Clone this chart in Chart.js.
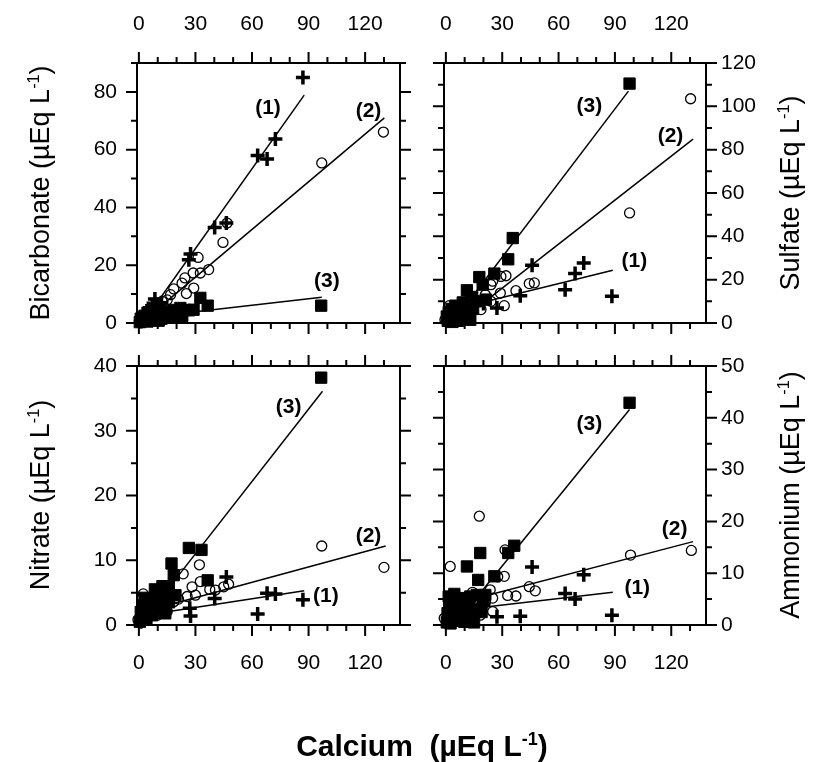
<!DOCTYPE html>
<html>
<head>
<meta charset="utf-8">
<title>Calcium vs anions and ammonium</title>
<script src="https://cdn.jsdelivr.net/npm/chart.js@4.4.0/dist/chart.umd.min.js"></script>
<style>
  body { margin: 0; background: #fff; }
  #wrap { position: relative; width: 822px; height: 762px; font-family: "Liberation Sans", Arial, sans-serif; color: #000; }
  #wrap canvas { position: absolute; left: 0; top: 0; }
  .ytitle { position: absolute; white-space: nowrap; font-size: 27px; transform: translate(-50%, -50%) rotate(-90deg); }
  .xtitle { position: absolute; left: 422px; top: 746px; white-space: nowrap; font-size: 30px; font-weight: bold; transform: translate(-50%, -50%); }
  sup { font-size: 60%; vertical-align: 0.6em; line-height: 0; }
</style>
</head>
<body>
<div id="wrap">
  <canvas id="bicarb" width="822" height="762"></canvas>
  <canvas id="sulfate" width="822" height="762"></canvas>
  <canvas id="nitrate" width="822" height="762"></canvas>
  <canvas id="ammonium" width="822" height="762"></canvas>
  <div class="ytitle" style="left:40px;top:193px">Bicarbonate (µEq L<sup>-1</sup>)</div>
  <div class="ytitle" style="left:40px;top:495px">Nitrate (µEq L<sup>-1</sup>)</div>
  <div class="ytitle" style="left:790px;top:193px">Sulfate (µEq L<sup>-1</sup>)</div>
  <div class="ytitle" style="left:790px;top:495px">Ammonium (µEq L<sup>-1</sup>)</div>
  <div class="xtitle">Calcium&nbsp; (µEq L<sup>-1</sup>)</div>
</div>
<script>
// tick labels
var calciumTicks = [0, 30, 60, 90, 120];
var calciumRange = [-1, 138.5];
var bicarbTicks = [0, 20, 40, 60, 80];
var sulfateTicks = [0, 20, 40, 60, 80, 100, 120];
var nitrateTicks = [0, 10, 20, 30, 40];
var ammoniumTicks = [0, 10, 20, 30, 40, 50];

// bicarbonate vs calcium
var bicarbCross = [[1,0.5],[2.5,1.5],[3,3.5],[4,2.5],[5,5],[6,4],[7,6],[8.5,8.3],[9,6.5],[10,5.5],[12,7],[26.5,21.9],[27.4,23.9],[40.2,33.1],[46.4,34.6],[63,58],[68,56.8],[72.4,63.7],[87,85]];
var bicarbCircle = [[1.5,1],[3,2],[5,3],[7,4.5],[9.5,5.5],[12.4,7.5],[15,8],[16.8,9.8],[18.5,11.8],[22.9,13.8],[24.4,15.6],[25.2,10.2],[29.1,12.1],[28.8,17.3],[32.6,17.3],[37,18.5],[31.4,22.7],[44.6,27.9],[46.8,34.6],[97,55.4],[129.7,66.1]];
var bicarbSquare = [[0.5,0.3],[1,1.5],[2,0.8],[3,2.5],[3.5,1.2],[4.5,0.5],[5,1.5],[6,1],[6.5,2],[7.5,1.2],[8,2.5],[9,3.2],[9.5,1.8],[10.5,0.8],[11,3],[12,1.5],[12.5,2.2],[13.5,2.8],[14,3.5],[15.5,4],[16,1.8],[17,3],[18.5,4.5],[19,2.2],[20,3.8],[21,3],[22,5.2],[23,2.5],[24.5,4.5],[26.5,4.4],[29,4.6],[32.6,8.7],[36.5,6],[96.7,6]];
var bicarbFit1 = [[2,0],[87.7,78.9]];
var bicarbFit2 = [[2,0.5],[130.2,71]];
var bicarbFit3 = [[1,1.7],[97,8.9]];
var bicarbTags = [['(1)',68.5,74.4],['(2)',121.8,73.3],['(3)',99.7,14.4]];

// sulfate vs calcium
var sulfateCross = [[3,2],[6,4],[10,6],[14,8],[20,9],[27.2,6.9],[39.6,12.6],[45.9,26.6],[63.5,15.4],[68.8,22.8],[73.4,27.7],[88.4,12.3]];
var sulfateCircle = [[-0.5,1.5],[1.8,8],[3.5,5.5],[5,3],[8,7],[12,9],[15,11],[18.7,6.2],[21,13],[24,17.7],[24.9,19.3],[24,10],[29,13.8],[29.3,21.5],[32,21.8],[31.1,8],[37.3,14.9],[44.4,18.2],[47.1,18.5],[97.8,50.8],[130.3,103.5]];
var sulfateSquare = [[0.5,3],[1,1],[1.5,5],[2.5,2.5],[3,6.5],[3.5,0.5],[4,1.5],[5,8],[5.5,4],[6.5,1],[7,3],[8,3.5],[8.5,6],[9,9.5],[10,2],[10.7,8.5],[11.2,15.1],[11.5,5.5],[12,8],[12.4,3.1],[13,1.5],[13.3,10.8],[14,12],[14.5,6.5],[16,10],[17.8,21.2],[19.6,17.7],[21.3,10.8],[25.8,22.8],[33.2,29.4],[35.6,39.2],[97.8,110.5]];
var sulfateFit1 = [[10,7.5],[88.9,24.3]];
var sulfateFit2 = [[8,1.2],[131.6,84.9]];
var sulfateFit3 = [[6,3],[97.2,107]];
var sulfateTags = [['(3)',76.4,100],['(2)',119.6,86.2],['(1)',100.4,28.5]];

// nitrate vs calcium
var nitrateCross = [[1,0.5],[3,1],[6,1.5],[10,2],[14,2.2],[27,2.6],[27.4,1.4],[40.2,4.1],[46.4,7.4],[63,1.7],[68,4.9],[72.4,4.8],[87,3.9]];
var nitrateCircle = [[-0.5,0.8],[2.3,4.8],[3.5,3.1],[4.4,2.8],[7,2],[9.7,1.5],[12,2.5],[15,2.1],[18.5,3.6],[21,4],[23.5,7.9],[25.6,4.4],[28.2,5.9],[30,4.6],[32.1,9.3],[32.6,6.7],[37.6,5.5],[40.6,5.4],[45,5.9],[47.6,6.3],[97,12.2],[130,8.9]];
var nitrateSquare = [[0.5,0.5],[1,2],[2,1],[2.5,3],[3,4.2],[3.5,1.8],[4,0.8],[5,2.2],[5.5,3.8],[6.5,3],[7,1.5],[7.9,2.8],[8.5,5.5],[9,3.8],[9.7,4.4],[10.5,3],[11.1,5.1],[12,2.5],[12.5,6],[13.2,3.3],[14,1.8],[14.5,4.5],[15.9,5.9],[16,3.5],[17.3,9.5],[18.5,7.7],[19.4,4.6],[26.5,11.9],[33.2,11.6],[36.5,6.9],[96.7,38.2]];
var nitrateFit1 = [[3,1.5],[87.7,5.3]];
var nitrateFit2 = [[3,2.1],[130.9,12.2]];
var nitrateFit3 = [[8,2.8],[97.4,36.1]];
var nitrateTags = [['(3)',79.4,33.6],['(2)',121.8,13.7],['(1)',99.2,4.5]];

// ammonium vs calcium
var ammoniumCross = [[2,1],[5,2],[9,3],[14,3.5],[20,4],[27.2,1.6],[39.6,1.7],[45.9,11.2],[63.5,6.1],[68.8,5],[73.4,9.7],[88.4,1.9]];
var ammoniumCircle = [[-0.9,1.3],[2.3,11.3],[4,3],[6.2,4.8],[9,2],[12,4],[14.2,6.3],[17.8,21],[18.3,1.9],[21,4.5],[23.6,6.8],[24.9,5.2],[24.9,2.6],[27.6,9.3],[31.1,9.4],[31.5,14.5],[32.9,5.7],[37.3,5.6],[44.4,7.4],[47.6,6.6],[98.3,13.5],[130.7,14.4]];
var ammoniumSquare = [[0.5,0.5],[0.9,2.3],[1.5,5.5],[1.8,3.6],[2.5,0.3],[3,4.5],[3.5,1.2],[4.5,6],[5.3,1.6],[6,0.8],[7,3],[7.5,4.5],[8.9,5.2],[9.8,0.6],[10.5,4.2],[11,2.5],[11.2,11.3],[12.4,3.9],[13,5.5],[14,1.5],[15,0.5],[15.5,3],[16.5,5.8],[17.2,8.7],[18.3,13.9],[19,2.5],[19.6,4.8],[21,5.8],[25.8,9.4],[33.2,13.9],[36.4,15.3],[97.8,42.9]];
var ammoniumFit1 = [[5,2.8],[88.9,6.3]];
var ammoniumFit2 = [[5,4.1],[131.6,16.1]];
var ammoniumFit3 = [[8,1.6],[97.8,41.6]];
var ammoniumTags = [['(3)',76.4,38.7],['(2)',121.8,18.4],['(1)',101.9,7.1]];

Chart.defaults.font.family = '"Liberation Sans", Arial, sans-serif';
Chart.defaults.font.size = 21;
Chart.defaults.color = '#000';

var AXIS_W = 70;   // room kept for the y tick labels
var AXIS_H = 55;   // room kept for the x tick labels

function toPts(arr) {
    return arr.map(function(p) { return {x: p[0], y: p[1]}; });
}

function range(from, to, step) {
    var out = [];
    for (var v = from; v <= to + 1e-9; v += step) out.push(v);
    return out;
}

// box round the plot with outward ticks on all four sides
var framePlugin = {
    id: 'frame',
    beforeDatasetsDraw: function(chart) {
        var o = chart.options.plugins.frame;
        var ctx = chart.ctx, a = chart.chartArea;
        var sx = chart.scales.x, sy = chart.scales.y;
        ctx.save();
        ctx.strokeStyle = '#000';
        ctx.lineWidth = 2;
        ctx.strokeRect(a.left, a.top, a.right - a.left, a.bottom - a.top);
        ctx.beginPath();
        o.xVals.forEach(function(v) {
            var px = sx.getPixelForValue(v);
            var len = o.xMajor.indexOf(v) >= 0 ? 11 : 6;
            ctx.moveTo(px, a.top); ctx.lineTo(px, a.top - len);
            ctx.moveTo(px, a.bottom); ctx.lineTo(px, a.bottom + len);
        });
        o.yVals.forEach(function(v) {
            var py = sy.getPixelForValue(v);
            var len = o.yMajor.indexOf(v) >= 0 ? 11 : 6;
            ctx.moveTo(a.left, py); ctx.lineTo(a.left - len, py);
            ctx.moveTo(a.right, py); ctx.lineTo(a.right + len, py);
        });
        ctx.stroke();
        ctx.restore();
    }
};

// (1) (2) (3) next to the fitted lines
var tagPlugin = {
    id: 'tags',
    afterDatasetsDraw: function(chart) {
        var tags = chart.options.plugins.tags.list;
        var ctx = chart.ctx;
        ctx.save();
        ctx.font = 'bold 21px "Liberation Sans", Arial, sans-serif';
        ctx.fillStyle = '#000';
        ctx.textAlign = 'center';
        ctx.textBaseline = 'middle';
        tags.forEach(function(t) {
            ctx.fillText(t[0], chart.scales.x.getPixelForValue(t[1]), chart.scales.y.getPixelForValue(t[2]));
        });
        ctx.restore();
    }
};

function lineSet(fit) {
    return {data: toPts(fit), showLine: true, pointRadius: 0, borderColor: '#000', borderWidth: 1.5, clip: false};
}

function makePanel(id, p) {
    var ctx = document.getElementById(id).getContext('2d');
    var pad = {left: p.area[0], top: p.area[1], right: 822 - p.area[2], bottom: 762 - p.area[3]};
    if (p.yPos === 'left') pad.left -= AXIS_W; else pad.right -= AXIS_W;
    if (p.xPos === 'top') pad.top -= AXIS_H; else pad.bottom -= AXIS_H;
    return new Chart(ctx, {
        type: 'scatter',
        data: {
            datasets: [
                lineSet(p.fit1), lineSet(p.fit2), lineSet(p.fit3),
                {data: toPts(p.cross), pointStyle: 'cross', pointRadius: 7, pointBorderWidth: 3.5, borderColor: '#000', clip: false},
                {data: toPts(p.circle), pointStyle: 'circle', pointRadius: 5, pointBorderWidth: 1.3, borderColor: '#000', backgroundColor: 'rgba(0,0,0,0)', clip: false},
                {data: toPts(p.square), pointStyle: 'rect', pointRadius: 8, borderColor: '#000', backgroundColor: '#000', clip: false}
            ]
        },
        options: {
            responsive: false,
            animation: false,
            devicePixelRatio: 1,
            events: [],
            layout: {padding: pad},
            plugins: {
                legend: {display: false},
                tooltip: {enabled: false},
                frame: {xVals: range(0, 130, 10), xMajor: calciumTicks, yVals: range(0, p.yMax, p.yMinor), yMajor: p.yTicks},
                tags: {list: p.tags}
            },
            scales: {
                x: {
                    type: 'linear', position: p.xPos,
                    min: calciumRange[0], max: calciumRange[1],
                    grid: {display: false, drawTicks: false}, border: {display: false},
                    ticks: {padding: 26, maxRotation: 0, autoSkip: false},
                    afterBuildTicks: function(s) { s.ticks = calciumTicks.map(function(v) { return {value: v}; }); },
                    afterFit: function(s) { s.height = AXIS_H; }
                },
                y: {
                    type: 'linear', position: p.yPos,
                    min: 0, max: p.yMax,
                    grid: {display: false, drawTicks: false}, border: {display: false},
                    ticks: {padding: p.yPos === 'left' ? 20 : 15, autoSkip: false},
                    afterBuildTicks: function(s) { s.ticks = p.yTicks.map(function(v) { return {value: v}; }); },
                    afterFit: function(s) { s.width = AXIS_W; }
                }
            }
        },
        plugins: [framePlugin, tagPlugin]
    });
}

window.onload = function() {
    makePanel('bicarb', {area: [137, 63, 400, 323], xPos: 'top', yPos: 'left', yMax: 90, yMinor: 10, yTicks: bicarbTicks,
        cross: bicarbCross, circle: bicarbCircle, square: bicarbSquare,
        fit1: bicarbFit1, fit2: bicarbFit2, fit3: bicarbFit3, tags: bicarbTags});
    makePanel('sulfate', {area: [444, 63, 706, 323], xPos: 'top', yPos: 'right', yMax: 120, yMinor: 10, yTicks: sulfateTicks,
        cross: sulfateCross, circle: sulfateCircle, square: sulfateSquare,
        fit1: sulfateFit1, fit2: sulfateFit2, fit3: sulfateFit3, tags: sulfateTags});
    makePanel('nitrate', {area: [137, 366, 400, 625], xPos: 'bottom', yPos: 'left', yMax: 40, yMinor: 5, yTicks: nitrateTicks,
        cross: nitrateCross, circle: nitrateCircle, square: nitrateSquare,
        fit1: nitrateFit1, fit2: nitrateFit2, fit3: nitrateFit3, tags: nitrateTags});
    makePanel('ammonium', {area: [444, 366, 706, 625], xPos: 'bottom', yPos: 'right', yMax: 50, yMinor: 5, yTicks: ammoniumTicks,
        cross: ammoniumCross, circle: ammoniumCircle, square: ammoniumSquare,
        fit1: ammoniumFit1, fit2: ammoniumFit2, fit3: ammoniumFit3, tags: ammoniumTags});
};
</script>
</body>
</html>
